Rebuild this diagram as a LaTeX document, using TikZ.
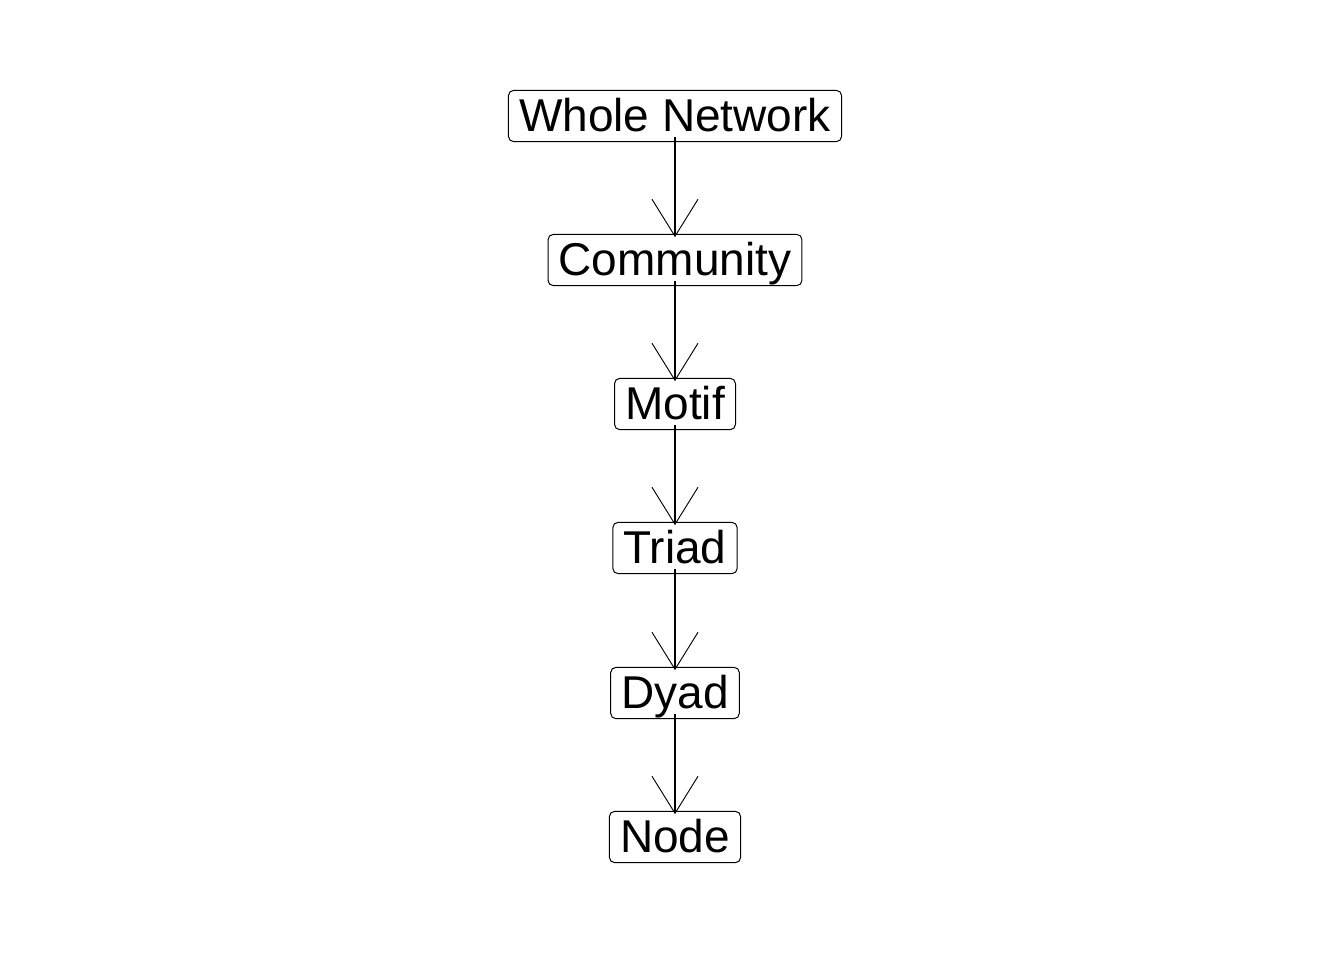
\documentclass[tikz,border=0pt]{standalone}
\usepackage{fontspec}
\setmainfont{Liberation Sans}
\usetikzlibrary{arrows.meta}
\begin{document}
\begin{tikzpicture}[x=0.75pt,y=-0.75pt,
  box/.style={draw, line width=0.75pt, rounded corners=4pt, inner xsep=8pt, inner ysep=0pt,
    text height=31.2pt, text depth=7.3pt, font=\fontsize{34.5}{40}\selectfont},
  link/.style={line width=1.1pt, -{Straight Barb[length=27.75pt, width=34.5pt, line width=0.7pt]}}]
\useasboundingbox (0,0) rectangle (1344,960);
\node[box] (w) at (675,116) {Whole Network};
\node[box] (c) at (675,260) {Community};
\node[box] (m) at (675,404) {Motif};
\node[box] (t) at (675,548) {Triad};
\node[box] (d) at (675,693) {Dyad};
\node[box] (n) at (675,837) {Node};
\foreach \a/\b in {w/c,c/m,m/t,t/d,d/n}
  \draw[link] ([yshift=3.75pt]\a.south) -- ([yshift=-2.5pt]\b.north);
\end{tikzpicture}
\end{document}
